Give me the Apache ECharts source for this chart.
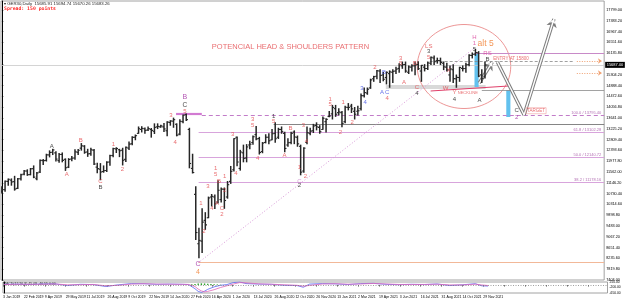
<!DOCTYPE html>
<html><head><meta charset="utf-8">
<script src="https://cdn.jsdelivr.net/npm/echarts@6/dist/echarts.min.js"></script>
<style>html,body{margin:0;padding:0;background:#fff}#c{width:625px;height:301px}</style>
</head><body><div id="c"></div>
<script>
// ---- DATA (weekly bars, index 0 = week of 7 Jan 2019) ----
const opens = [10820,10880,11200,11250,11190,10930,11300,11480,11600,11460,11690,11300,11560,12000,12010,12220,12320,12300,12000,12240,12050,11750,12060,12100,12320,12480,12560,12330,12270,12400,11750,11670,11580,11620,11950,12200,12450,12420,12400,12050,12480,12650,12900,13050,13200,13230,13180,13200,13130,13300,13300,13300,
13150,13470,13520,13400,13020,13500,13770,13200,11700,10700,8800,8900,9700,9800,10600,10600,10400,10500,10900,10600,11200,11650,12900,11700,12300,12100,12600,12700,13000,12850,12350,12700,12900,12800,13050,12900,13200,13050,12600,12700,13100,12900,12550,11600,12700,13050,13150,13350,13280,13200,13500,13700,
13800,14000,13850,13850,13500,14050,14100,13900,13900,14000,14500,14600,14800,15150,15250,15450,15300,15200,15350,15400,15450,15550,15650,15700,15400,15600,15650,15700,15450,15600,15550,15750,15950,15850,15850,15750,15600,15300,15500,15150,15200,15550,15550,15700,16050,16100,16150,15300,15250];
const highs = [11000,11220,11300,11300,11400,11320,11480,11620,11650,11700,11800,11550,12030,12050,12250,12380,12440,12350,12280,12300,12070,12080,12160,12420,12430,12660,12580,12440,12480,12430,11900,11890,11800,11960,12210,12480,12500,12440,12480,12530,12720,12920,12990,13300,13310,13260,13300,13240,13420,13420,13370,13430,
13500,13540,13640,13420,13580,13760,13800,13250,12250,11000,9400,10150,10000,10600,10700,10680,11230,10950,10950,11200,11780,12850,12913,12400,12600,12620,12750,12950,13320,12900,12700,13000,13040,13200,13460,13250,13300,13100,12850,13100,13150,12950,12600,12500,13300,13250,13400,13460,13350,13680,13620,13900,
14130,14130,14000,13900,14100,14200,14170,14050,14100,14570,14800,14800,15140,15250,15470,15500,15400,15420,15460,15500,15600,15730,15800,15800,15650,15700,15800,15810,15670,15700,15800,15990,16030,15950,15950,15800,15750,15650,15700,15300,15600,15650,15750,16080,16150,16290,16200,15500,15800];
const lows = [10750,10820,11050,11050,10860,10920,11250,11450,11430,11450,11340,11260,11540,11850,11980,12140,12230,11980,11930,11950,11620,11730,11990,12050,12230,12400,12280,12160,12200,11850,11530,11260,11550,11580,11820,12150,12310,12150,11830,11960,12420,12610,12800,13050,13100,13050,13160,12900,13040,13230,13280,13120,
12950,13360,13280,12950,12990,13450,13540,11720,11520,8960,8256,8460,9350,9800,10250,10150,10360,10400,10160,10550,11120,11600,11800,11630,11950,11950,12450,12630,12800,12250,12300,12680,12650,12800,12700,12850,13050,12340,12550,12650,12650,12550,11450,11550,12650,12990,13080,13180,13050,13200,13100,13690,
13600,13700,13750,13300,13450,13950,13850,13600,13750,13950,14450,14550,14780,15050,15150,15000,15070,14950,14820,15000,15350,15400,15550,15400,15350,15450,15300,15500,15050,15450,15500,15700,15700,15750,15700,15500,15450,15050,15000,14820,15050,15450,15400,15650,15950,16050,15230,15000,15180];
const closes = [10887,11205,11281,11180,10906,11299,11457,11602,11458,11685,11364,11526,12009,11999,12222,12315,12412,12059,12238,12011,11726,12045,12096,12340,12399,12568,12323,12260,12419,11872,11693,11562,11612,11939,12192,12468,12468,12381,12013,12512,12634,12895,12961,13228,13242,13163,13236,13166,13282,13318,13337,13219,
13483,13526,13577,12982,13514,13745,13579,11890,11542,9232,8929,9633,9526,10564,10626,10336,10862,10904,10465,11074,11587,12848,11949,12331,12089,12528,12633,12920,12838,12313,12675,12901,12765,13033,12842,13203,13116,12469,12689,13051,12909,12646,11556,12480,13077,13137,13336,13299,13114,13630,13587,13719,
14050,13787,13874,13433,14057,14050,13993,13786,13920,14502,14621,14749,15107,15234,15460,15280,15136,15400,15417,15438,15520,15693,15693,15448,15607,15650,15688,15540,15669,15544,15761,15977,15808,15852,15781,15609,15490,15531,15156,15206,15587,15543,15688,16054,16094,16160,15257,15170,15687];

const dateTicks = ['3 Jan 2019','22 Feb 2019','9 Apr 2019','29 May 2019','11 Jul 2019','26 Aug 2019','9 Oct 2019','22 Nov 2019','14 Jan 2020','27 Feb 2020','16 Apr 2020','1 Jun 2020','13 Jul 2020','26 Aug 2020','12 Oct 2020','26 Nov 2020','13 Jan 2021','2 Mar 2021','19 Apr 2021','3 Jun 2021','16 Jul 2021','31 Aug 2021','14 Oct 2021','29 Nov 2021'];

// indicator (MACD-like) readings
const macdX = [0,4,8,12,16,20,24,28,32,36,40,44,48,52,56,58,60,61,62,63,64,66,68,70,72,74,76,80,84,88,92,94,96,100,104,108,112,116,120,124,128,132,136,140,144,148,150,152];
const macdMain = [60,80,50,90,100,-40,60,40,-120,20,120,110,60,80,60,40,-300,-520,-600,-500,-350,-150,-20,40,200,260,120,80,60,-20,-40,-180,80,120,100,40,120,140,60,30,60,40,90,-40,20,110,-60,-80];
const macdSignal = [40,70,60,70,90,20,30,50,-60,-20,80,110,80,70,60,50,-120,-330,-480,-560,-520,-380,-200,-60,80,200,180,100,70,20,-20,-90,-30,90,110,70,90,130,90,50,50,50,70,10,10,70,10,-40];
const histX = [59,60,61,62,63,64,65,66,67,68];
const histV = [60,90,120,140,130,110,90,70,50,30];

// fib / levels
const fibLevels = [13102, 12140, 11178];
const fibTexts = ['61.8 / 13102.28', '50.0 / 12140.72', '38.2 / 11178.16'];
const peakLevel = 13795;
const lastClose = closes[closes.length - 1];

// ---- LAYOUT / STYLE ----
const X_MIN = -0.28, X_MAX = 189.5, X_STEP = 6.557;
const Y_MIN = 7404, Y_MAX = 18146, Y_STEP = 415.8;
const FF = 'Liberation Sans, Arial, sans-serif';
const COL = {k:'#151515', r:'#e4484c', b:'#3f4fe6', p:'#a02aa0', o:'#f07a2a', m:'#d8409a', l:'#c878c8'};

// Elliott / pattern labels: text, week, price, colour, size
const waveLabels = [
 ['A',15.7,12563,'k'],['A',20.4,11485,'r'],['B',24.8,12794,'r'],['C',31.0,11216,'r'],['B',31.0,10985,'k'],
 ['1',35.1,12640,'r'],['2',37.9,11678,'r'],['3',53.2,13757,'r'],['4',54.5,12717,'r'],
 ['5',57.6,13911,'r'],['C',57.6,14142,'k',6.5],['B',57.6,14450,'p',7],
 ['C',61.7,8020,'p',7],['4',61.7,7712,'o',7],
 ['1',62.6,10369,'r'],['2',63.6,9291,'r'],['3',64.8,11023,'r'],['4',66.1,10176,'r'],
 ['1',67.3,11716,'r'],['5',67.3,11485,'r'],['B',68.3,11216,'r'],['A',67.6,10369,'r'],
 ['C',69.2,10176,'r'],['2',69.2,9945,'r'],['1',70.1,11408,'r'],['2',70.1,10869,'r'],
 ['3',72.6,13025,'r'],['4',73.6,11524,'r'],['3',78.9,13603,'r'],['5',78.9,13372,'r'],['4',80.5,12101,'r'],
 ['1',85.5,13718,'k'],['5',85.5,13526,'r'],['B',90.8,13256,'r'],['A',88.9,12217,'r'],
 ['3',94.9,13372,'r'],['4',95.8,12756,'r'],['1',93.6,11755,'r'],['2',95.5,11408,'r'],
 ['C',93.6,11216,'l'],['2',93.6,11062,'k'],
 ['1',103.3,14373,'r'],['5',103.3,14180,'r'],['1',107.4,14257,'r'],['2',106.5,13102,'r'],['2',110.2,13487,'r'],
 ['3',113.3,14796,'b'],['4',114.3,14257,'b'],
 ['2',117.4,15605,'r'],['B',120.2,15412,'b'],['A',119.6,14642,'b'],['C',121.2,14642,'b'],['4',121.2,14411,'r'],
 ['3',125.5,15951,'r'],['5',125.5,15759,'r'],['A',126.5,15027,'r'],['B',129.9,15759,'r'],
 ['C',130.6,14835,'r'],['4',130.6,14604,'k'],
 ['LS',134.3,16413,'r'],['3',134.3,16220,'k'],['5',134.3,15990,'r'],
 ['X',140.6,15489,'r'],['W',139.6,14796,'r'],['Y',142.4,14642,'r'],['4',142.4,14373,'k'],
 ['NECKLINE',146.6,14615,'r',4],
 ['H',148.7,16760,'m'],['1',148.7,16529,'m'],['5',148.7,16298,'k'],
 ['alt 5',152.2,16490,'o',8.5],['RS',152.8,16144,'m'],['B',152.8,15913,'k'],['A',150.3,14334,'k'],
 ['ENTRY AT 15800',160.2,15940,'r',4.5],['TARGET',168.1,13922,'r',4.5],
 ['C',162.0,13922,'k'],['2',162.0,13668,'p'],
 ['POTENCIAL HEAD & SHOULDERS PATTERN',90.8,16375,'r',7.5]
];

// drawn lines: start, end, colour, width, type, arrow
const segs = [
 {a:[54.8,peakLevel], b:[62.9,peakLevel], c:'#d27ad2', w:2.2, t:'solid'},
 {a:[62.9,13757], b:[X_MAX,13757], c:'#c27cc9', w:1, t:[4,3]},
 {a:[61.9,fibLevels[0]], b:[X_MAX,fibLevels[0]], c:'#d8a4dc', w:1, t:'solid'},
 {a:[61.9,fibLevels[1]], b:[X_MAX,fibLevels[1]], c:'#d8a4dc', w:1, t:'solid'},
 {a:[61.9,fibLevels[2]], b:[X_MAX,fibLevels[2]], c:'#d8a4dc', w:1, t:'solid'},
 {a:[85.5,13410], b:[X_MAX,13410], c:'#666', w:0.8, t:'solid'},
 {a:[61.9,8097], b:[X_MAX,8097], c:'#f2b898', w:1, t:'solid'},
 {a:[61.7,8059], b:[148.7,16336], c:'#d99ad9', w:1, t:[1,2]},
 {a:[148.7,16144], b:[X_MAX,16144], c:'#c88ac8', w:1, t:'solid'},
 {a:[134.6,15836], b:[180,15836], c:'#888', w:0.8, t:[3,2]},
 {a:[134.9,14681], b:[159.6,14874], c:'#e0406a', w:1, t:'solid'},
 {a:[151,14720], b:[X_MAX,14720], c:'#8a8a8a', w:0.8, t:'solid'},
 {a:[180.9,15836], b:[188.8,15836], c:'#f0a070', w:1, t:[1,1.5], arrow:true},
 {a:[180.9,15374], b:[188.8,15374], c:'#f0a070', w:1, t:[1,1.5], arrow:true}
];
// projection path pieces
const projSegs = [
 {a:[150.2,14989], b:[154.3,15797], arrow:true},
 {a:[155.9,15797], b:[164.3,13756], arrow:false},
 {a:[164.3,13756], b:[173.7,17452], arrow:true}
];
// rectangles: week from, week to, price top, price bottom
const rects = [[120.8,152.2,14912,14758],[148.7,150.0,16144,14835],[158.7,160.0,14719,13680]];
const rectColors = ['#d9d9d9','#62c1ee','#62c1ee'];
const ellipse = [[145.4,15624,14.7,1617]];

// ---- CHART ----
const chart = echarts.init(document.getElementById('c'), null, {renderer:'canvas'});
const candleData = opens.map((o,i)=>[i,o,closes[i],lows[i],highs[i]]);

function segItem(s, col, w, type, size){
  return [{coord:s.a, lineStyle:{color:col, width:w, type:type}},
          {coord:s.b, symbol:s.arrow?'arrow':'none', symbolSize:size}];
}

const option = {
  animation:false,
  backgroundColor:'#fff',
  textStyle:{fontFamily:FF},
  grid:[
    {left:1, top:1, width:606.5, height:279, show:true, borderColor:'#8a8a8a', borderWidth:0.8},
    {left:1, top:282, width:606.5, height:11, show:true, borderColor:'#8a8a8a', borderWidth:0.8}
  ],
  xAxis:[
    {gridIndex:0, type:'value', min:X_MIN, max:X_MAX, show:false},
    {gridIndex:1, type:'value', min:X_MIN, max:X_MAX, interval:X_STEP,
     axisLine:{show:false}, splitLine:{show:false},
     axisTick:{show:true, length:1.5, lineStyle:{color:'#000', width:0.6}},
     axisLabel:{fontSize:3.5, color:'#000', margin:2.5, align:'left', fontFamily:FF,
       showMaxLabel:false,
       formatter:v=>{const k=Math.round((v-X_MIN)/X_STEP); return dateTicks[k]||'';}}}
  ],
  yAxis:[
    {gridIndex:0, type:'value', position:'right', min:Y_MIN, max:Y_MAX, interval:Y_STEP,
     axisLine:{show:true, lineStyle:{color:'#000', width:1}},
     axisTick:{show:true, length:1.5, lineStyle:{color:'#000', width:0.6}},
     splitLine:{show:false},
     axisLabel:{fontSize:3.8, color:'#000', margin:2, showMaxLabel:false, fontFamily:FF,
       formatter:v=>v.toFixed(2)}},
    {gridIndex:1, type:'value', position:'right', min:-650, max:250, interval:450,
     axisLine:{show:true, lineStyle:{color:'#000', width:1}},
     axisTick:{show:false}, splitLine:{show:false},
     axisLabel:{fontSize:3.3, color:'#000', margin:2, fontFamily:FF, formatter:v=>v.toFixed(2)}}
  ],
  graphic:[
    {type:'text', left:4, top:1.5, style:{text:'\u25BE GER30,Daily  15685.91 15694.74 15670.26 15683.26', fontSize:4.3, fill:'#222', fontFamily:FF}},
    {type:'text', left:4, top:6, style:{text:'Spread: 150 points', fontSize:4.8, fill:'#ff2525', fontWeight:'bold', fontFamily:'DejaVu Sans Mono, monospace'}},
    {type:'text', left:3, top:282.5, style:{text:'MACD(12,26,9) 45.09 -46.55 0.00', fontSize:3.5, fill:'#222', fontFamily:FF}}
  ],
  series:[
    {type:'custom', xAxisIndex:0, yAxisIndex:0, clip:true, z:1, silent:true,
     data:rects, encode:{x:[0,1], y:[2,3]},
     renderItem(p, api){
       const a = api.coord([api.value(0), api.value(2)]);
       const b = api.coord([api.value(1), api.value(3)]);
       return {type:'rect', shape:{x:Math.min(a[0],b[0]), y:Math.min(a[1],b[1]), width:Math.abs(b[0]-a[0]), height:Math.abs(b[1]-a[1])},
               style:{fill:rectColors[p.dataIndex]}};
     }},
    {type:'scatter', xAxisIndex:0, yAxisIndex:0, symbolSize:0, data:[[X_MIN-10, Y_MIN-500]], z:2, silent:true,
     markLine:{silent:true, symbol:['none','none'], animation:false,
       lineStyle:{color:'#c9c9c9', width:0.8, type:'solid'},
       label:{show:true, position:'end', distance:1, formatter:()=>lastClose.toFixed(2),
              backgroundColor:'#000', color:'#fff', fontSize:4, padding:[1,1.5], fontFamily:FF},
       data:[{yAxis:lastClose}]}},
    {type:'scatter', xAxisIndex:0, yAxisIndex:0, symbolSize:0, data:[[X_MIN-10, Y_MIN-500]], z:3, silent:true,
     markLine:{silent:true, symbol:['none','none'], label:{show:false}, animation:false,
       data: segs.map(s=>segItem(s, s.c, s.w, s.t, 4))}},
    {type:'custom', xAxisIndex:0, yAxisIndex:0, clip:true, z:4, silent:true,
     data:ellipse, encode:{x:0, y:1},
     renderItem(p, api){
       const c = api.coord([api.value(0), api.value(1)]);
       const s = api.size([api.value(2), api.value(3)]);
       const pts = [];
       for (let k=0;k<=96;k++){ const t=k/96*Math.PI*2; pts.push([c[0]+s[0]*Math.cos(t), c[1]+s[1]*Math.sin(t)]); }
       return {type:'polyline', shape:{points:pts}, style:{fill:null, stroke:'#e77b7b', lineWidth:0.8}};
     }},
    {type:'custom', xAxisIndex:0, yAxisIndex:0, clip:true, z:5, silent:true,
     data:candleData, encode:{x:0, y:[1,2,3,4]},
     renderItem(p, api){
       const x = api.value(0);
       const h = api.coord([x, api.value(4)]);
       const l = api.coord([x, api.value(3)]);
       const o = api.coord([x, api.value(1)]);
       const c = api.coord([x, api.value(2)]);
       const st = {stroke:'#262626', lineWidth:1.5};
       const st2 = {stroke:'#262626', lineWidth:1.1};
       return {type:'group', children:[
         {type:'line', shape:{x1:h[0], y1:h[1]-0.4, x2:l[0], y2:l[1]+0.4}, style:st},
         {type:'line', shape:{x1:o[0]-1.7, y1:o[1], x2:o[0], y2:o[1]}, style:st2},
         {type:'line', shape:{x1:c[0], y1:c[1], x2:c[0]+1.7, y2:c[1]}, style:st2}
       ]};
     }},
    {type:'scatter', xAxisIndex:0, yAxisIndex:0, symbolSize:0, data:[[X_MIN-10, Y_MIN-500]], z:6, silent:true,
     markLine:{silent:true, symbol:['none','none'], label:{show:false}, animation:false,
       data: projSegs.map(s=>segItem(s, '#7c7c7c', 3.4, 'solid', 8))}},
    {type:'scatter', xAxisIndex:0, yAxisIndex:0, symbolSize:0, data:[[X_MIN-10, Y_MIN-500]], z:7, silent:true,
     markLine:{silent:true, symbol:['none','none'], label:{show:false}, animation:false,
       data: projSegs.map(s=>segItem(s, '#ffffff', 1.4, 'solid', 4.5))}},
    {type:'scatter', xAxisIndex:0, yAxisIndex:0, symbolSize:0, z:8, silent:true,
     data: fibLevels.map((v,k)=>({name:fibTexts[k], value:[188.6, v]})).concat([{name:'100.0 / 13795.40', value:[188.6, 13757]}]),
     label:{show:true, position:'inside', align:'right', verticalAlign:'bottom', formatter:'{b}', color:'#a04ca0', fontSize:4, fontFamily:FF}},
    {type:'scatter', xAxisIndex:0, yAxisIndex:0, symbolSize:0, z:10, silent:true,
     data: waveLabels.map(([t,i,v,c,fs])=>{
       const it = {name:t, value:[i,v], label:{color:COL[c], fontSize:fs||6}};
       if (t==='TARGET') { it.label.borderColor='#f08a8a'; it.label.borderWidth=0.6; it.label.padding=[0.5,1]; }
       return it;
     }),
     label:{show:true, position:'inside', formatter:'{b}', fontFamily:FF}},
    {type:'bar', xAxisIndex:1, yAxisIndex:1, data:histX.map((x,k)=>[x,histV[k]]), barWidth:1.4, itemStyle:{color:'#2ca02c'}, silent:true, z:2},
    {type:'line', xAxisIndex:1, yAxisIndex:1, data:macdX.map((x,k)=>[x,macdMain[k]]), symbol:'none', silent:true, z:3,
     lineStyle:{color:'#5466f2', width:0.8},
     markLine:{silent:true, symbol:['none','none'], label:{show:false}, animation:false,
       lineStyle:{color:'#777', width:0.7, type:[1,1.5]}, data:[{yAxis:0}]}},
    {type:'line', xAxisIndex:1, yAxisIndex:1, data:macdX.map((x,k)=>[x,macdSignal[k]]), symbol:'none', silent:true, z:3,
     lineStyle:{color:'#e066b8', width:0.8}}
  ]
};
chart.setOption(option);
</script></body></html>
